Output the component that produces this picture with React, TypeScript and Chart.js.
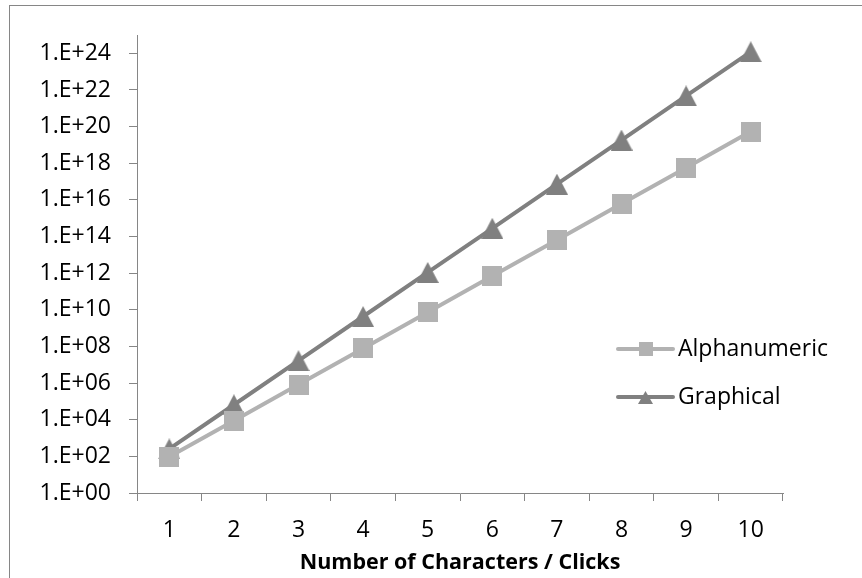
import React, { useEffect, useRef } from 'react';
import { Chart, registerables } from 'chart.js';

Chart.register(...registerables);

// ---- data ----
const categories = ['1', '2', '3', '4', '5', '6', '7', '8', '9', '10'];
const alphanumericValues = [94, 8836, 830584, 7.8075e7, 7.339e9, 6.899e11, 6.485e13, 6.096e15, 5.73e17, 5.386e19];
const graphicalValues = [256, 65536, 16777216, 4.295e9, 1.0995e12, 2.815e14, 7.206e16, 1.845e19, 4.722e21, 1.209e24];
const yTickValues = [1, 1e2, 1e4, 1e6, 1e8, 1e10, 1e12, 1e14, 1e16, 1e18, 1e20, 1e22, 1e24];
const yMin = 1;
const yMax = 1e25;
const seriesNames = ['Alphanumeric', 'Graphical'];
const xAxisTitle = 'Number of Characters / Clicks';

const ALPHA_COLOR = '#B2B2B2';
const GRAPH_COLOR = '#808080';
const AXIS_COLOR = '#868686';
const FONT = '"Open Sans", "DejaVu Sans", sans-serif';

function makeSquare(size: number, color: string) {
  const c = document.createElement('canvas');
  c.width = size;
  c.height = size;
  const ctx = c.getContext('2d')!;
  ctx.fillStyle = color;
  ctx.fillRect(0, 0, size, size);
  return c;
}

function makeTriangle(w: number, h: number, color: string) {
  const c = document.createElement('canvas');
  c.width = w;
  c.height = h;
  const ctx = c.getContext('2d')!;
  ctx.fillStyle = color;
  ctx.beginPath();
  ctx.moveTo(w / 2, 0);
  ctx.lineTo(w, h);
  ctx.lineTo(0, h);
  ctx.closePath();
  ctx.fill();
  return c;
}

const legendPlugin = {
  id: 'insideLegend',
  afterDraw(chart: any) {
    const { ctx, chartArea } = chart;
    const items = [
      { name: seriesNames[0], color: ALPHA_COLOR, marker: makeSquare(14, ALPHA_COLOR) },
      { name: seriesNames[1], color: GRAPH_COLOR, marker: makeTriangle(15, 13, GRAPH_COLOR) },
    ];
    const x0 = chartArea.right - 165;
    const lineLen = 55;
    const yStart = chartArea.top + 314;
    const gap = 48;
    ctx.save();
    items.forEach((it, i) => {
      const y = yStart + i * gap;
      ctx.strokeStyle = it.color;
      ctx.lineWidth = 4;
      ctx.lineCap = 'round';
      ctx.beginPath();
      ctx.moveTo(x0, y);
      ctx.lineTo(x0 + lineLen, y);
      ctx.stroke();
      const mx = x0 + lineLen / 2;
      ctx.drawImage(it.marker, Math.round(mx - it.marker.width / 2), Math.round(y - it.marker.height / 2));
      ctx.fillStyle = '#000000';
      ctx.font = `23px ${FONT}`;
      ctx.textAlign = 'left';
      ctx.textBaseline = 'middle';
      ctx.fillText(it.name, x0 + lineLen + 5, y);
    });
    ctx.restore();
  },
};

function ChartView() {
  const canvasRef = useRef<HTMLCanvasElement | null>(null);

  useEffect(() => {
    const canvas = canvasRef.current;
    if (!canvas) return;
    const squareMarker = makeSquare(20, ALPHA_COLOR);
    const triangleMarker = makeTriangle(22, 21, GRAPH_COLOR);

    const chart = new Chart(canvas, {
      type: 'line',
      data: {
        labels: categories,
        datasets: [
          {
            label: seriesNames[0],
            data: alphanumericValues,
            borderColor: ALPHA_COLOR,
            backgroundColor: ALPHA_COLOR,
            borderWidth: 4,
            borderCapStyle: 'round',
            borderJoinStyle: 'round',
            pointStyle: squareMarker as any,
            pointRadius: 10,
            tension: 0,
            clip: false as any,
          },
          {
            label: seriesNames[1],
            data: graphicalValues,
            borderColor: GRAPH_COLOR,
            backgroundColor: GRAPH_COLOR,
            borderWidth: 4,
            borderCapStyle: 'round',
            borderJoinStyle: 'round',
            pointStyle: triangleMarker as any,
            pointRadius: 10,
            tension: 0,
            clip: false as any,
          },
        ],
      },
      options: {
        animation: false,
        responsive: false,
        devicePixelRatio: 1,
        layout: { padding: { left: 0, top: 35, right: 79, bottom: 0 } },
        plugins: {
          legend: { display: false },
          tooltip: { enabled: false },
        },
        scales: {
          x: {
            type: 'category',
            offset: true,
            grid: {
              offset: true,
              drawOnChartArea: false,
              drawTicks: true,
              tickLength: 8,
              color: AXIS_COLOR,
            },
            border: { display: true, color: AXIS_COLOR, width: 1 },
            ticks: {
              color: '#000000',
              font: { family: FONT, size: 23 },
              padding: 16,
              maxRotation: 0,
              autoSkip: false,
            },
            title: {
              display: true,
              text: xAxisTitle,
              color: '#000000',
              font: { family: FONT, size: 21.5, weight: 'bold' },
              padding: { top: 2, bottom: 2 },
            },
            afterFit: (scale: any) => {
              scale.height = 85;
            },
          },
          y: {
            type: 'logarithmic',
            min: yMin,
            max: yMax,
            grid: {
              drawOnChartArea: false,
              drawTicks: true,
              tickLength: 8,
              color: AXIS_COLOR,
            },
            border: { display: true, color: AXIS_COLOR, width: 1 },
            ticks: {
              color: '#000000',
              font: { family: FONT, size: 23 },
              padding: 18,
              callback: (value: any) => {
                const e = Math.round(Math.log10(Number(value)));
                return '1.E+' + (e < 10 ? '0' + e : String(e));
              },
            },
            afterBuildTicks: (scale: any) => {
              scale.ticks = yTickValues.map((v) => ({ value: v }));
            },
            afterFit: (scale: any) => {
              scale.width = 137;
            },
          },
        },
      },
      plugins: [legendPlugin],
    });

    return () => {
      chart.destroy();
    };
  }, []);

  return (
    <canvas
      ref={canvasRef}
      width={862}
      height={578}
      style={{ position: 'absolute', left: 0, top: 0, width: 862, height: 578 }}
    />
  );
}

export default function App() {
  return (
    <div
      style={{
        position: 'fixed',
        left: 0,
        top: 0,
        width: 862,
        height: 578,
        overflow: 'hidden',
        background: '#ffffff',
      }}
    >
      <div
        style={{
          position: 'absolute',
          left: 9,
          top: 5,
          width: 900,
          height: 700,
          border: `1px solid ${AXIS_COLOR}`,
        }}
      />
      <ChartView />
    </div>
  );
}
